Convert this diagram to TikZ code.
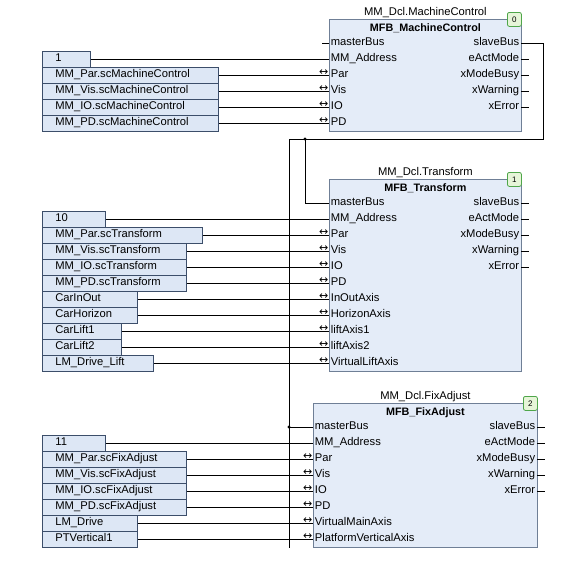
\documentclass[tikz,border=0pt]{standalone}
\usepackage{fontspec}
\setmainfont{Liberation Sans}
\newfontfamily\arrowfont{DejaVu Sans}
\usepackage{tikz}
\usetikzlibrary{positioning,calc}

\definecolor{fbfill}{HTML}{E4ECF8}
\definecolor{fbline}{HTML}{6F7F96}
\definecolor{boxfill}{HTML}{DDE7F5}
\definecolor{boxline}{HTML}{3C4E6A}
\definecolor{badgefill}{HTML}{E6F5D8}
\definecolor{badgeline}{HTML}{4FA64A}

\begin{document}
\begin{tikzpicture}[x=1pt, y=-1pt, line width=0.8pt,
  font=\fontsize{11.2}{12}\selectfont,
  fb/.style={draw=fbline, fill=fbfill, anchor=north west, inner sep=0pt},
  title/.style={anchor=base, inner sep=0pt},
  head/.style={anchor=base, inner sep=0pt, font=\fontsize{10.8}{12}\selectfont\bfseries},
  badge/.style={draw=badgeline, fill=badgefill, rounded corners=2pt, minimum size=14pt,
    inner sep=0pt, anchor=north east, font=\fontsize{8}{8}\selectfont},
  pinin/.style={anchor=west, inner xsep=1.5pt, inner ysep=0pt, text height=7.8pt, text depth=2pt},
  pinout/.style={anchor=east, inner xsep=1.5pt, inner ysep=0pt, text height=7.8pt, text depth=2pt},
  ioport/.style={pinin, label={[font=\arrowfont\fontsize{11}{11}\selectfont, inner sep=0pt,
    anchor=base east, xshift=-0.3pt, yshift=-0.5pt]west:↔}},
  inbox/.style={draw=boxline, fill=boxfill, anchor=west, minimum height=16pt, inner xsep=13pt,
    inner ysep=0pt, text height=7.8pt, text depth=2pt, align=left, text width=#1}]
\useasboundingbox (0,0) rectangle (567,565);

% MM_Dcl.MachineControl
\node[fb, minimum width=192pt, minimum height=112pt] (mc) at (329,19) {};
\node[title] (mc-t) at ([yshift=4pt]mc.north) {MM\_Dcl.MachineControl};
\node[head] (mc-h) at ([yshift=-12pt]mc.north) {MFB\_MachineControl};
\node[badge] (mc-n) at ([yshift=7pt]mc.north east) {0};
\node[pinin] (mc-mb) at (329,43) {masterBus};
\node[pinin] (mc-addr) at (329,59) {MM\_Address};
\node[ioport] (mc-par) at (329,75) {Par};
\node[ioport] (mc-vis) at (329,91) {Vis};
\node[ioport] (mc-io) at (329,107) {IO};
\node[ioport] (mc-pd) at (329,123) {PD};
\node[pinout] (mc-sb) at (521,43) {slaveBus};
\node[pinout] (mc-act) at (521,59) {eActMode};
\node[pinout] (mc-busy) at (521,75) {xModeBusy};
\node[pinout] (mc-warn) at (521,91) {xWarning};
\node[pinout] (mc-err) at (521,107) {xError};
\node[inbox=22pt] (mc-c) at (42,59) {1};
\node[inbox=150pt] (mc-ipar) at (42,75) {MM\_Par.scMachineControl};
\node[inbox=150pt] (mc-ivis) at (42,91) {MM\_Vis.scMachineControl};
\node[inbox=150pt] (mc-iio) at (42,107) {MM\_IO.scMachineControl};
\node[inbox=150pt] (mc-ipd) at (42,123) {MM\_PD.scMachineControl};

% MM_Dcl.Transform
\node[fb, minimum width=192pt, minimum height=192pt] (tf) at (329,179) {};
\node[title] (tf-t) at ([yshift=4pt]tf.north) {MM\_Dcl.Transform};
\node[head] (tf-h) at ([yshift=-12pt]tf.north) {MFB\_Transform};
\node[badge] (tf-n) at ([yshift=7pt]tf.north east) {1};
\node[pinin] (tf-mb) at (329,203) {masterBus};
\node[pinin] (tf-addr) at (329,219) {MM\_Address};
\node[ioport] (tf-par) at (329,235) {Par};
\node[ioport] (tf-vis) at (329,251) {Vis};
\node[ioport] (tf-io) at (329,267) {IO};
\node[ioport] (tf-pd) at (329,283) {PD};
\node[ioport] (tf-inout) at (329,299) {InOutAxis};
\node[ioport] (tf-hor) at (329,315) {HorizonAxis};
\node[ioport] (tf-lift1) at (329,331) {liftAxis1};
\node[ioport] (tf-lift2) at (329,347) {liftAxis2};
\node[ioport] (tf-vlift) at (329,363) {VirtualLiftAxis};
\node[pinout] (tf-sb) at (521,203) {slaveBus};
\node[pinout] (tf-act) at (521,219) {eActMode};
\node[pinout] (tf-busy) at (521,235) {xModeBusy};
\node[pinout] (tf-warn) at (521,251) {xWarning};
\node[pinout] (tf-err) at (521,267) {xError};
\node[inbox=37pt] (tf-c) at (42,219) {10};
\node[inbox=134pt] (tf-ipar) at (42,235) {MM\_Par.scTransform};
\node[inbox=118pt] (tf-ivis) at (42,251) {MM\_Vis.scTransform};
\node[inbox=118pt] (tf-iio) at (42,267) {MM\_IO.scTransform};
\node[inbox=118pt] (tf-ipd) at (42,283) {MM\_PD.scTransform};
\node[inbox=69pt] (tf-iinout) at (42,299) {CarInOut};
\node[inbox=69pt] (tf-ihor) at (42,315) {CarHorizon};
\node[inbox=53pt] (tf-ilift1) at (42,331) {CarLift1};
\node[inbox=53pt] (tf-ilift2) at (42,347) {CarLift2};
\node[inbox=85pt] (tf-ivlift) at (42,363) {LM\_Drive\_Lift};

% MM_Dcl.FixAdjust
\node[fb, minimum width=224pt, minimum height=144pt] (fa) at (313,403) {};
\node[title] (fa-t) at ([yshift=4pt]fa.north) {MM\_Dcl.FixAdjust};
\node[head] (fa-h) at ([yshift=-12pt]fa.north) {MFB\_FixAdjust};
\node[badge] (fa-n) at ([yshift=7pt]fa.north east) {2};
\node[pinin] (fa-mb) at (313,427) {masterBus};
\node[pinin] (fa-addr) at (313,443) {MM\_Address};
\node[ioport] (fa-par) at (313,459) {Par};
\node[ioport] (fa-vis) at (313,475) {Vis};
\node[ioport] (fa-io) at (313,491) {IO};
\node[ioport] (fa-pd) at (313,507) {PD};
\node[ioport] (fa-vmain) at (313,523) {VirtualMainAxis};
\node[ioport] (fa-pvert) at (313,539) {PlatformVerticalAxis};
\node[pinout] (fa-sb) at (537,427) {slaveBus};
\node[pinout] (fa-act) at (537,443) {eActMode};
\node[pinout] (fa-busy) at (537,459) {xModeBusy};
\node[pinout] (fa-warn) at (537,475) {xWarning};
\node[pinout] (fa-err) at (537,491) {xError};
\node[inbox=37pt] (fa-c) at (42,443) {11};
\node[inbox=118pt] (fa-ipar) at (42,459) {MM\_Par.scFixAdjust};
\node[inbox=118pt] (fa-ivis) at (42,475) {MM\_Vis.scFixAdjust};
\node[inbox=118pt] (fa-iio) at (42,491) {MM\_IO.scFixAdjust};
\node[inbox=118pt] (fa-ipd) at (42,507) {MM\_PD.scFixAdjust};
\node[inbox=69pt] (fa-ivmain) at (42,523) {LM\_Drive};
\node[inbox=69pt] (fa-ipvert) at (42,539) {PTVertical1};

% inputs
\draw (mc-c.east) -- (mc-c.east -| mc-addr.west);
\draw (mc-ipar.east) -- (mc-ipar.east -| mc-par.west);
\draw (mc-ivis.east) -- (mc-ivis.east -| mc-vis.west);
\draw (mc-iio.east) -- (mc-iio.east -| mc-io.west);
\draw (mc-ipd.east) -- (mc-ipd.east -| mc-pd.west);
\draw (tf-c.east) -- (tf-c.east -| tf-addr.west);
\draw (tf-ipar.east) -- (tf-ipar.east -| tf-par.west);
\draw (tf-ivis.east) -- (tf-ivis.east -| tf-vis.west);
\draw (tf-iio.east) -- (tf-iio.east -| tf-io.west);
\draw (tf-ipd.east) -- (tf-ipd.east -| tf-pd.west);
\draw (tf-iinout.east) -- (tf-iinout.east -| tf-inout.west);
\draw (tf-ihor.east) -- (tf-ihor.east -| tf-hor.west);
\draw (tf-ilift1.east) -- (tf-ilift1.east -| tf-lift1.west);
\draw (tf-ilift2.east) -- (tf-ilift2.east -| tf-lift2.west);
\draw (tf-ivlift.east) -- (tf-ivlift.east -| tf-vlift.west);
\draw (fa-c.east) -- (fa-c.east -| fa-addr.west);
\draw (fa-ipar.east) -- (fa-ipar.east -| fa-par.west);
\draw (fa-ivis.east) -- (fa-ivis.east -| fa-vis.west);
\draw (fa-iio.east) -- (fa-iio.east -| fa-io.west);
\draw (fa-ipd.east) -- (fa-ipd.east -| fa-pd.west);
\draw (fa-ivmain.east) -- (fa-ivmain.east -| fa-vmain.west);
\draw (fa-ipvert.east) -- (fa-ipvert.east -| fa-pvert.west);

% output stubs
\draw (mc-mb.west) -- ++(-7,0);
\draw (mc-act.east) -- ++(8,0);
\draw (mc-busy.east) -- ++(8,0);
\draw (mc-warn.east) -- ++(8,0);
\draw (mc-err.east) -- ++(8,0);
\draw (tf-sb.east) -- ++(8,0);
\draw (tf-act.east) -- ++(8,0);
\draw (tf-busy.east) -- ++(8,0);
\draw (tf-warn.east) -- ++(8,0);
\draw (tf-err.east) -- ++(8,0);
\draw (fa-sb.east) -- ++(8,0);
\draw (fa-act.east) -- ++(8,0);
\draw (fa-busy.east) -- ++(8,0);
\draw (fa-warn.east) -- ++(8,0);
\draw (fa-err.east) -- ++(8,0);

% bus
\coordinate (busR) at (543,139);
\coordinate (busL) at (289,139);
\coordinate (busE) at (289,548);
\coordinate (j1) at (305,139);
\coordinate (j2) at (busL |- fa-mb.west);
\draw (mc-sb.east) -| (busR) -- (busL) -- (busE);
\draw (j1) |- (tf-mb.west);
\draw (j2) -- (fa-mb.west);
\fill (j1) circle (1.6pt);
\fill (j2) circle (1.6pt);
\end{tikzpicture}
\end{document}
